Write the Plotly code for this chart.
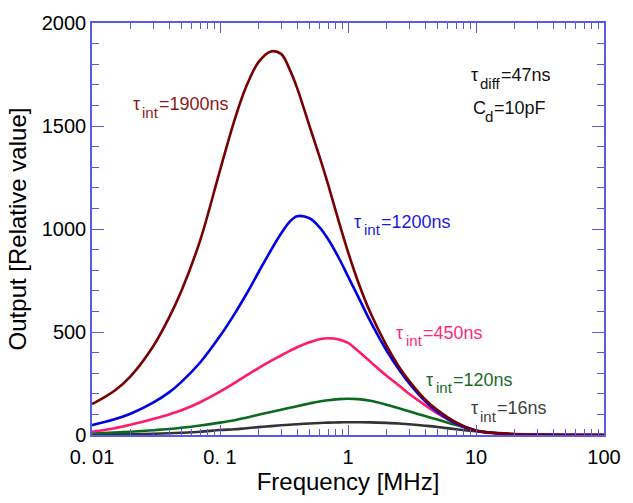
import plotly.graph_objects as go

freq = [0.01, 0.015, 0.02, 0.03, 0.04, 0.05, 0.07, 0.1, 0.13, 0.16, 0.2, 0.25, 0.3, 0.35,
        0.4, 0.5, 0.6, 0.7, 0.85, 1, 1.2, 1.5, 2, 2.5, 3, 4, 5, 7, 10, 15, 20, 30, 50, 100]

out_1900 = [150, 215, 285, 430, 570, 700, 945, 1285, 1530, 1690, 1810, 1862, 1850, 1775,
            1685, 1500, 1350, 1215, 1033, 889, 743, 592, 434, 332, 263, 173, 121, 61, 22,
            8, 4, 1.2, 0.3, 0]
out_1200 = [48, 76, 103, 157, 207, 258, 352, 480, 588, 682, 790, 897, 978, 1035,
            1062, 1052, 1008, 950, 858, 770, 672, 550, 410, 318, 252, 165, 112, 56, 21,
            8, 3.8, 1.2, 0.3, 0]
out_450 = [16, 33, 50, 78, 100, 120, 159, 210, 253, 288, 325, 360, 386, 408,
           426, 450, 465, 470, 464, 447, 408, 355, 288, 240, 200, 145, 105, 55, 20,
           7, 3, 1, 0.2, 0]
out_120 = [7, 12, 16, 23, 29, 35, 46, 60, 72, 84, 98, 112, 123, 132,
           140, 153, 163, 169, 174, 176, 174, 166, 147, 130, 115, 92, 75, 48, 22,
           8, 3.5, 1, 0.2, 0]
out_16 = [2, 3, 4, 6, 8.5, 11, 16, 24, 28, 33, 38, 43, 47, 50,
          52, 56, 58.5, 60, 61.5, 62, 62, 61.5, 59, 56, 52, 45, 39, 28, 18,
          9, 5, 2, 0.6, 0.1]

series = [
    ("τint=16ns", out_16, "#333333"),
    ("τint=120ns", out_120, "#0b6a1e"),
    ("τint=450ns", out_450, "#ff1a6e"),
    ("τint=1200ns", out_1200, "#0000e6"),
    ("τint=1900ns", out_1900, "#7a0000"),
]

xtick_vals = [0.01, 0.1, 1, 10, 100]
xtick_text = ["0. 01", "0. 1", "1", "10", "100"]
ytick_vals = [0, 500, 1000, 1500, 2000]
ytick_text = ["0", "500", "1000", "1500", "2000"]

FONT = "Liberation Sans, Arial, sans-serif"
AXC = "#5a5ae8"

fig = go.Figure()
for name, vals, col in series:
    fig.add_trace(go.Scatter(x=freq, y=vals, mode="lines", name=name,
                             line=dict(color=col, width=2.6, shape="spline", smoothing=1.0),
                             hoverinfo="skip"))


def px2x(px):
    return -2 + (px - 92) / 129.5


def py2y(py):
    return (435 - py) * 2000 / 416


def add_text(txt, px, py, col, size):
    fig.add_annotation(x=px2x(px), y=py2y(py), xref="x", yref="y", text=txt,
                       showarrow=False, xanchor="left", yanchor="middle", borderpad=0,
                       font=dict(family=FONT, size=size, color=col))


# (main symbol, width of symbol px, subscript, width of subscript px, rest, left px, center y px, colour)
labels = [
    ("τ", 10, "int", 17, "=1900ns", 132, 101, "#8b1a1a"),
    ("τ", 10, "int", 17, "=1200ns", 356, 220, "#1a1ae0"),
    ("τ", 10, "int", 17, "=450ns", 399, 332, "#ff2a78"),
    ("τ", 10, "int", 17, "=120ns", 429, 379, "#1a6a2a"),
    ("τ", 10, "int", 17, "=16ns", 474, 408, "#404040"),
    ("τ", 10, "diff", 21, "=47ns", 474, 72, "#111111"),
    ("C", 13, "d", 9, "=10pF", 476, 105, "#111111"),
]
for main, wm, sub, ws, rest, px, py, col in labels:
    add_text(main, px, py, col, 18)
    add_text(sub, px + wm, py + 8, col, 15)
    add_text(rest, px + wm + ws, py, col, 18)

fig.update_layout(
    width=633, height=503,
    margin=dict(l=92, r=23, t=19, b=68),
    paper_bgcolor="white", plot_bgcolor="white",
    showlegend=False,
    font=dict(family=FONT, color="black"),
)
fig.update_xaxes(type="log", range=[-2, 2], showgrid=False, zeroline=False,
                 showline=True, linecolor=AXC, linewidth=1.5, mirror="ticks",
                 ticks="inside", ticklen=10, tickcolor=AXC, tickwidth=1.2,
                 tickvals=xtick_vals, ticktext=xtick_text, ticklabelstandoff=3,
                 tickfont=dict(size=20, color="black"),
                 minor=dict(ticks="inside", ticklen=6, tickcolor=AXC, tickwidth=1.2,
                            dtick="D1", showgrid=False),
                 title=dict(text="Frequency [MHz]", font=dict(size=24, color="black"), standoff=6))
fig.update_yaxes(range=[0, 2000], showgrid=False, zeroline=False,
                 showline=True, linecolor=AXC, linewidth=1.5, mirror="ticks",
                 ticks="inside", ticklen=12, tickcolor=AXC, tickwidth=1.2,
                 tickvals=ytick_vals, ticktext=ytick_text,
                 tickfont=dict(size=20, color="black"),
                 minor=dict(ticks="inside", ticklen=7, tickcolor=AXC, tickwidth=1.2,
                            dtick=100, showgrid=False),
                 title=dict(text="Output [Relative value]", font=dict(size=24, color="black"), standoff=8))

fig.write_html("out.html")
